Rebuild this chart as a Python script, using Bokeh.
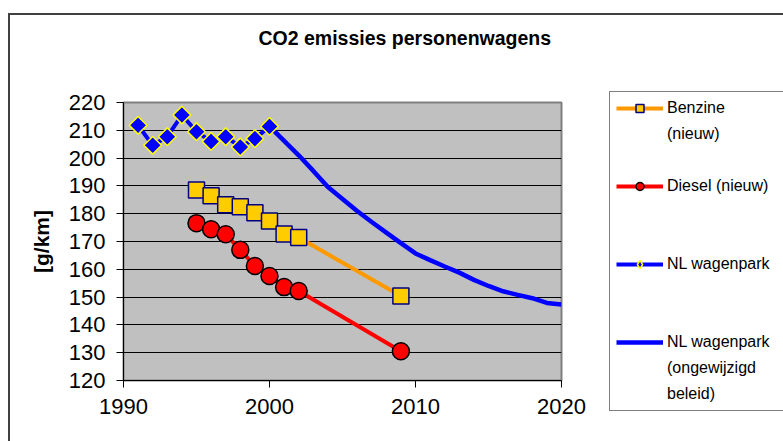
from bokeh.plotting import figure
from bokeh.models import Legend, LegendItem, FixedTicker, Range1d, Title
from bokeh.layouts import row
from bokeh.embed import file_html
from bokeh.resources import INLINE
import math

# ---- data ----
years_new = [1995, 1996, 1997, 1998, 1999, 2000, 2001, 2002, 2009]
benzine = [188.5, 186.5, 183.2, 182.5, 180.3, 177.4, 172.7, 171.4, 150.4]
diesel = [176.6, 174.4, 172.6, 167.0, 161.2, 157.6, 153.6, 152.2, 130.5]
years_park = [1991, 1992, 1993, 1994, 1995, 1996, 1997, 1998, 1999, 2000]
park = [211.8, 204.6, 207.7, 215.5, 209.5, 206.0, 207.7, 204.0, 207.0, 211.4]
years_proj = list(range(2000, 2021))
proj = [211.4, 206.2, 201.0, 195.4, 189.6, 185.3, 181.0, 177.0, 173.2, 169.4, 165.7,
        163.3, 161.0, 158.8, 156.2, 154.0, 152.1, 150.8, 149.6, 147.9, 147.3]
x_ticks = [1990, 2000, 2010, 2020]
y_ticks = list(range(120, 221, 10))
title_text = "CO2 emissies personenwagens"
y_label = "[g/km]"

FONT = "Liberation Sans"

# series styles
ST_BENZ_LINE = dict(line_color="#FF9900", line_width=4)
ST_BENZ_PTS = dict(marker="square", size=16, fill_color="#FFCC00", line_color="#000080", line_width=1.5)
ST_DIES_LINE = dict(line_color="#FF0000", line_width=4)
ST_DIES_PTS = dict(marker="circle", size=17, fill_color="#FF0000", line_color="black", line_width=1.5)
ST_PARK_LINE = dict(line_color="#0000FF", line_width=4)
ST_PARK_PTS = dict(marker="square", size=12.5, angle=math.pi / 4, fill_color="#0000FF",
                   line_color="#FFFF00", line_width=1.5)
ST_PARK_KEY = dict(marker="diamond", size=12.5, fill_color="#0000FF",
                   line_color="#FFFF00", line_width=1.5)
ST_PROJ_LINE = dict(line_color="#0000FF", line_width=4.5)

# ---------------- main chart ----------------
p = figure(width=600, height=441, output_backend="svg", toolbar_location=None,
           x_range=Range1d(1990, 2020), y_range=Range1d(120, 220),
           min_border_left=123, min_border_right=39, min_border_top=102, min_border_bottom=61)
p.background_fill_color = "#C0C0C0"
p.border_fill_color = None
p.outline_line_color = "#808080"
p.outline_line_width = 2

# spacer between the frame and the title, then the title itself (outermost)
p.add_layout(Title(text=" ", text_font_size="1px", standoff=51), "above")
p.add_layout(Title(text=title_text, align="left", offset=135, standoff=0,
                   text_font=FONT, text_font_size="19.5px", text_font_style="bold",
                   text_color="black"), "above")

p.xgrid.visible = False
p.ygrid.ticker = FixedTicker(ticks=y_ticks[1:-1])
p.ygrid.grid_line_color = "black"
p.ygrid.grid_line_width = 1

for ax in (p.xaxis[0], p.yaxis[0]):
    ax.axis_line_color = "black"
    ax.axis_line_width = 1
    ax.major_tick_line_color = "black"
    ax.major_tick_in = 0
    ax.major_tick_out = 7
    ax.minor_tick_line_color = None
    ax.major_label_text_font = FONT
    ax.major_label_text_font_size = "22px"
    ax.major_label_text_color = "black"
p.xaxis.ticker = FixedTicker(ticks=x_ticks)
p.yaxis.ticker = FixedTicker(ticks=y_ticks)
p.xaxis.major_label_standoff = 11
p.yaxis.major_label_standoff = 11
p.yaxis.axis_label = y_label
p.yaxis.axis_label_text_font = FONT
p.yaxis.axis_label_text_font_size = "21px"
p.yaxis.axis_label_text_font_style = "bold"
p.yaxis.axis_label_text_color = "black"
p.yaxis.axis_label_standoff = 13

p.line(years_proj, proj, **ST_PROJ_LINE)
p.line(years_new, benzine, **ST_BENZ_LINE)
p.scatter(years_new, benzine, **ST_BENZ_PTS)
p.line(years_new, diesel, **ST_DIES_LINE)
p.scatter(years_new, diesel, **ST_DIES_PTS)
p.line(years_park, park, **ST_PARK_LINE)
p.scatter(years_park, park, **ST_PARK_PTS)

# ---------------- legend panel ----------------
# same series, drawn in a plot whose (tiny) ranges keep them out of view:
# they only serve as the legend's glyph samples
q = figure(width=183, height=441, output_backend="svg", toolbar_location=None,
           x_range=Range1d(0, 1), y_range=Range1d(0, 1),
           x_axis_type=None, y_axis_type=None, min_border=0)
q.grid.visible = False
q.outline_line_color = None
q.background_fill_color = None
q.border_fill_color = None

lb = q.line(years_new, benzine, **ST_BENZ_LINE)
sb = q.scatter(years_new, benzine, **ST_BENZ_PTS)
ld = q.line(years_new, diesel, **ST_DIES_LINE)
sd = q.scatter(years_new, diesel, **ST_DIES_PTS)
lk = q.line(years_park, park, **ST_PARK_LINE)
sk = q.scatter(years_park, park, **ST_PARK_KEY)
lp = q.line(years_proj, proj, **ST_PROJ_LINE)
blank = q.line([], [], line_alpha=0)

legend_rows = [
    ("Benzine", [lb, sb]),
    ("(nieuw)", [blank]),
    (" ", [blank]),
    ("Diesel (nieuw)", [ld, sd]),
    (" ", [blank]),
    (" ", [blank]),
    ("NL wagenpark", [lk, sk]),
    (" ", [blank]),
    (" ", [blank]),
    ("NL wagenpark", [lp]),
    ("(ongewijzigd", [blank]),
    ("beleid)", [blank]),
]
legend = Legend(items=[LegendItem(label=t, renderers=r) for t, r in legend_rows],
                location=(9, -31), orientation="vertical")
legend.label_text_font = FONT
legend.label_text_font_size = "16px"
legend.label_text_color = "black"
legend.glyph_width = 47
legend.glyph_height = 20
legend.label_height = 20
legend.label_standoff = 4
legend.label_width = 117
legend.spacing = 6
legend.padding = 6
legend.margin = 0
legend.border_line_color = "black"
legend.border_line_width = 1
legend.background_fill_alpha = 0
q.add_layout(legend, "left")

layout = row(p, q)
layout.spacing = 0
# outer chart-area border (top and left edges; the rest runs off the page)
layout.styles = {
    "background": "linear-gradient(#404040,#404040) 8px 13px / 100% 2px no-repeat, "
                  "linear-gradient(#404040,#404040) 8px 13px / 2px 100% no-repeat"
}

open("out.html", "w").write(file_html(layout, INLINE))
